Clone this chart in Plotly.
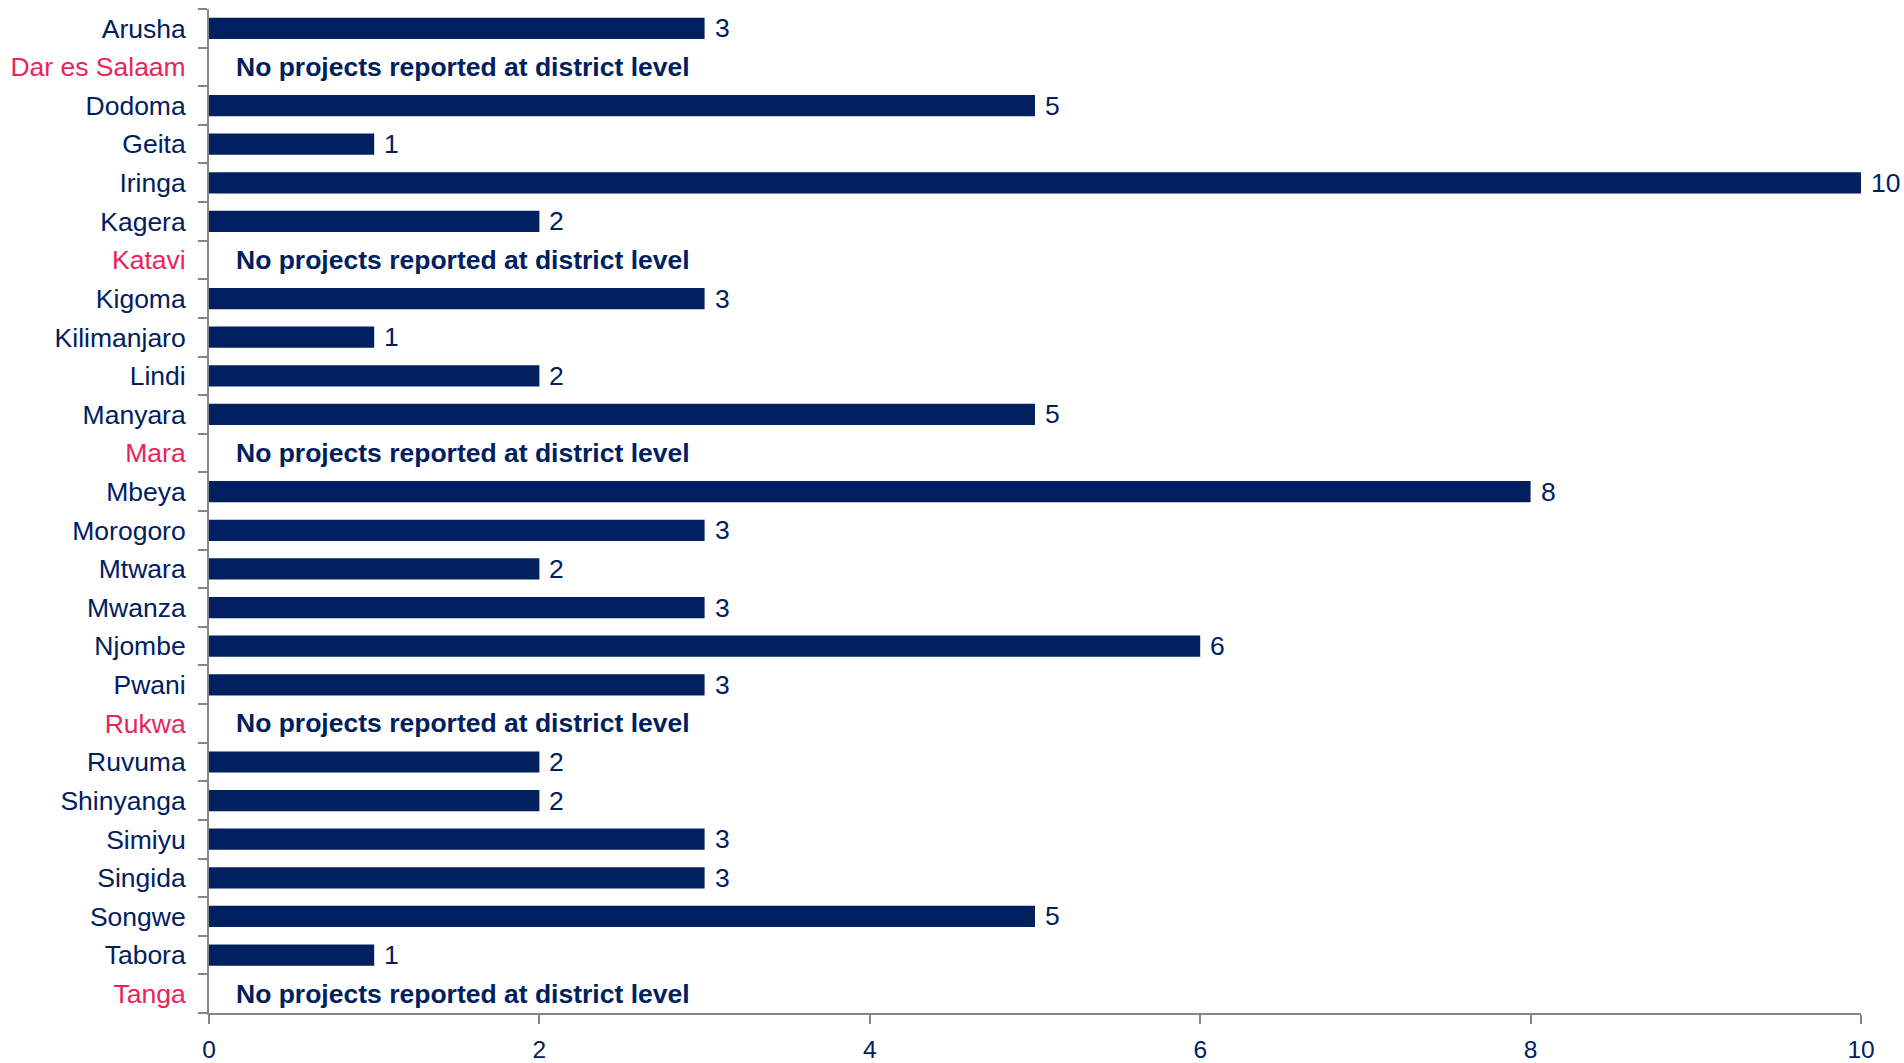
import plotly.graph_objects as go

regions = ["Arusha", "Dar es Salaam", "Dodoma", "Geita", "Iringa", "Kagera", "Katavi",
           "Kigoma", "Kilimanjaro", "Lindi", "Manyara", "Mara", "Mbeya", "Morogoro",
           "Mtwara", "Mwanza", "Njombe", "Pwani", "Rukwa", "Ruvuma", "Shinyanga",
           "Simiyu", "Singida", "Songwe", "Tabora", "Tanga"]
projects = [3, None, 5, 1, 10, 2, None, 3, 1, 2, 5, None, 8, 3, 2, 3, 6, 3, None,
            2, 2, 3, 3, 5, 1, None]
no_data_text = "No projects reported at district level"
x_ticks = [0, 2, 4, 6, 8, 10]

NAVY = "#002060"
RED = "#E8245A"
AXIS = "#868686"
FONT = "Liberation Sans, Arial, sans-serif"
FS = 26.5
FS_X = 24.5

fig = go.Figure()
fig.add_trace(go.Bar(
    y=regions, x=[v if v is not None else 0 for v in projects],
    orientation="h", marker=dict(color=NAVY, line=dict(width=0)),
    hoverinfo="x+y",
))

ticktext = []
for r, v in zip(regions, projects):
    c = RED if v is None else NAVY
    ticktext.append(f'<span style="color:{c}">{r}</span>')

annotations = []
for r, v in zip(regions, projects):
    if v is None:
        annotations.append(dict(x=0, y=r, xref="x", yref="y", text=f"<b>{no_data_text}</b>",
                                showarrow=False, xanchor="left", xshift=25,
                                font=dict(size=FS, color=NAVY, family=FONT)))
    else:
        annotations.append(dict(x=v, y=r, xref="x", yref="y", text=str(v),
                                showarrow=False, xanchor="left", xshift=8,
                                font=dict(size=FS, color=NAVY, family=FONT)))

fig.update_layout(
    width=1904, height=1063,
    margin=dict(l=209, r=43, t=9, b=50, autoexpand=False),
    paper_bgcolor="white", plot_bgcolor="white",
    bargap=0.45, showlegend=False,
    font=dict(family=FONT, size=FS, color=NAVY),
    annotations=annotations,
)
fig.update_xaxes(range=[0, 10], tickvals=x_ticks, ticktext=[str(t) for t in x_ticks],
                 showgrid=False, zeroline=False, showline=True, linecolor=AXIS, linewidth=2,
                 ticks="outside", ticklen=9, tickwidth=2, tickcolor=AXIS,
                 tickfont=dict(size=FS_X, color=NAVY, family=FONT), ticklabelstandoff=5)
fig.update_yaxes(type="category", categoryorder="array", categoryarray=regions,
                 autorange="reversed", tickvals=regions, ticktext=ticktext,
                 tickson="boundaries", showgrid=False, zeroline=False,
                 showline=True, linecolor=AXIS, linewidth=2,
                 ticks="outside", ticklen=9, tickwidth=2, tickcolor=AXIS,
                 tickfont=dict(size=FS, color=NAVY, family=FONT), ticklabelstandoff=16)

fig.write_html("out.html", config={"displayModeBar": False},
               post_script="document.body.style.margin='0';document.body.style.overflow='hidden';")
